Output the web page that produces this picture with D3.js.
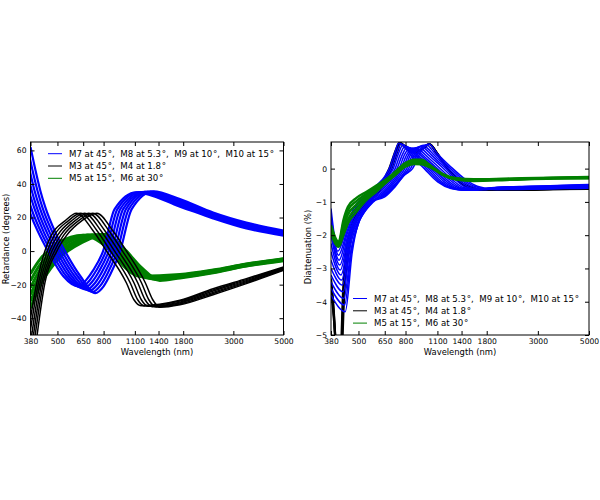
<!DOCTYPE html>
<html>
<head>
<meta charset="utf-8">
<script src="https://cdn.jsdelivr.net/npm/d3@7"></script>
<style>
  body { margin: 0; background: #fff; }
  text { font-family: "DejaVu Sans", sans-serif; }
  .legend text { white-space: pre; }
</style>
</head>
<body>
<div id="chart"></div>
<script>

// tick values and labels
var xTickValues = [380, 500, 650, 800, 1100, 1400, 1800, 3000, 5000];
var retYTicks = [-40, -20, 0, 20, 40, 60];
var diaYTicks = [-5, -4, -3, -2, -1, 0];
var legendLabels = ["M7 at 45\u200a°,  M8 at 5.3\u200a°,  M9 at 10\u200a°,  M10 at 15\u200a°",
                    "M3 at 45\u200a°,  M4 at 1.8\u200a°",
                    "M5 at 15\u200a°,  M6 at 30\u200a°"];
var legendColors = ["#0000ff", "#000000", "#008000"];

// retardance (degrees), [wavelength nm, value]
var retBlue = [
  [[319,62],[336,48],[353,36],[371,26],[412,11],[454,0],[531,-15],[618,-21],[672,-17],[719,-11.5],[796,0],[895,25],[1116,35],[1741,26.5],[2441,19.5],[3424,13.5],[5000,9.2]],
  [[329,62],[346,48],[363,36],[382,26],[424,11],[467,0],[547,-15],[636,-21.7],[692,-17.7],[740,-11.9],[819,0],[921,25],[1149,35.1],[1741,27.3],[2441,20.1],[3424,14.1],[5000,9.7]],
  [[338,62],[356,48],[374,36],[394,26],[436,11],[481,0],[563,-15],[654,-22.3],[712,-18.3],[762,-12.3],[843,0],[948,25],[1183,35.2],[1741,28],[2441,20.7],[3424,14.7],[5000,10.2]],
  [[348,62],[367,48],[385,36],[405,26],[449,11],[495,0],[579,-15],[674,-23],[733,-19],[785,-12.7],[868,0],[976,25],[1217,35.3],[1741,28.8],[2441,21.3],[3424,15.3],[5000,10.7]],
  [[358,62],[377,48],[396,36],[417,26],[462,11],[509,0],[596,-15],[693,-23.6],[755,-19.6],[808,-13.2],[893,0],[1005,25],[1253,35.4],[1741,29.5],[2441,21.8],[3424,15.8],[5000,11.2]],
  [[369,62],[388,48],[408,36],[429,26],[476,11],[524,0],[614,-15],[714,-24.3],[777,-20.3],[831,-13.6],[919,0],[1034,25],[1289,35.5],[1741,30.3],[2441,22.4],[3424,16.4],[5000,11.7]],
  [[380,62],[400,48],[420,36],[442,26],[490,11],[540,0],[632,-15],[735,-25],[800,-21],[856,-14],[947,0],[1065,25],[1328,35.6],[1741,31],[2441,23],[3424,17],[5000,12.2]]
];

var retBlack = [
  [[365,-55],[405,-19],[440,0],[470,9.5],[540,18],[607,22.5],[720,12],[825,0],[1010,-19],[1090,-29],[1170,-32.5],[1741,-29.3],[2441,-22.4],[3424,-16.4],[5000,-9.5]],
  [[372,-55],[412,-19],[451,0],[485,9.5],[558,18],[633,22.5],[750,12],[859,0],[1050,-19],[1132,-29],[1216,-32.7],[1741,-29.8],[2441,-23.1],[3424,-17],[5000,-9.9]],
  [[380,-55],[419,-19],[462,0],[501,9.5],[577,18],[659,22.5],[780,12],[895,0],[1091,-19],[1175,-29],[1264,-32.9],[1741,-30.4],[2441,-23.8],[3424,-17.6],[5000,-10.3]],
  [[387,-55],[426,-19],[473,0],[517,9.5],[597,18],[687,22.5],[812,12],[932,0],[1134,-19],[1221,-29],[1314,-33.1],[1741,-30.9],[2441,-24.6],[3424,-18.2],[5000,-10.7]],
  [[394,-55],[433,-19],[485,0],[533,9.5],[618,18],[716,22.5],[846,12],[970,0],[1178,-19],[1268,-29],[1366,-33.3],[1741,-31.5],[2441,-25.3],[3424,-18.8],[5000,-11.1]],
  [[402,-55],[440,-19],[497,0],[550,9.5],[640,18],[747,22.5],[880,12],[1010,0],[1225,-19],[1320,-29],[1420,-33.5],[1741,-32],[2441,-26],[3424,-19.4],[5000,-11.5]]
];

var retGreen = [
  [[380,-13.5],[421,-4.5],[455,0],[470,1.5],[505,5],[650,9.5],[780,5],[860,0],[1000,-10],[1150,-15],[1741,-14],[2441,-11.3],[3424,-7.7],[5000,-4.5]],
  [[380,-17.6],[421,-7.6],[447,-3.6],[473,0],[530,5],[681,9.6],[808,5],[888,0],[1034,-10],[1200,-15.5],[1741,-14.4],[2441,-11.6],[3424,-7.9],[5000,-4.7]],
  [[380,-21.7],[421,-10.7],[450,-5.5],[493,0],[555,5],[713,9.7],[837,5],[917,0],[1068,-10],[1251,-16],[1741,-14.8],[2441,-11.9],[3424,-8.2],[5000,-5]],
  [[380,-25.8],[421,-13.8],[460,-6.5],[513,0],[582,5],[747,9.8],[867,5],[947,0],[1104,-10],[1305,-16.5],[1741,-15.2],[2441,-12.3],[3424,-8.4],[5000,-5.2]],
  [[380,-29.9],[421,-16.9],[465,-8.5],[534,0],[610,5],[783,9.9],[898,5],[978,0],[1141,-10],[1361,-17],[1741,-15.6],[2441,-12.6],[3424,-8.7],[5000,-5.5]],
  [[380,-34],[421,-20],[466,-10.5],[515,-3.5],[555,0],[640,5],[820,10],[930,5],[1010,0],[1180,-10],[1420,-17.5],[1741,-16],[2441,-12.9],[3424,-8.9],[5000,-5.7]]
];

// diattenuation (%), right panel
var diaBlue = [
  [[380,-1.2],[405,-2.35],[440,-1.8],[480,-1.15],[540,-0.8],[600,-0.5],[655,-0.2],[680,0],[720,0.5],[748,0.77],[800,0.62],[845,0.4],[965,0],[1103,-0.4],[1260,-0.6],[1440,-0.65],[2000,-0.56],[2800,-0.53],[3900,-0.5],[5000,-0.48]],
  [[380,-1.4],[407,-2.48],[442,-1.85],[485,-1.18],[545,-0.82],[607,-0.52],[665,-0.21],[693,0],[732,0.48],[764,0.74],[815,0.61],[862,0.4],[987,0],[1126,-0.4],[1280,-0.6],[1460,-0.65],[2000,-0.565],[2800,-0.535],[3900,-0.51],[5000,-0.49]],
  [[380,-1.6],[410,-2.6],[445,-1.9],[490,-1.2],[550,-0.85],[615,-0.55],[675,-0.22],[707,0],[745,0.45],[780,0.72],[830,0.6],[880,0.4],[1010,0],[1150,-0.4],[1300,-0.6],[1480,-0.65],[2000,-0.57],[2800,-0.54],[3900,-0.52],[5000,-0.5]],
  [[380,-1.8],[412,-2.75],[447,-1.95],[495,-1.25],[555,-0.88],[622,-0.58],[688,-0.24],[721,0],[760,0.44],[797,0.68],[850,0.56],[900,0.38],[1032,0],[1175,-0.39],[1325,-0.6],[1505,-0.645],[2000,-0.575],[2800,-0.55],[3900,-0.53],[5000,-0.51]],
  [[380,-2.0],[415,-2.9],[450,-2.0],[500,-1.3],[560,-0.9],[630,-0.6],[700,-0.25],[735,0],[775,0.42],[815,0.65],[870,0.52],[920,0.36],[1055,0],[1200,-0.38],[1350,-0.6],[1530,-0.64],[2000,-0.58],[2800,-0.56],[3900,-0.54],[5000,-0.52]],
  [[380,-2.25],[417,-3.05],[452,-2.05],[505,-1.33],[565,-0.93],[635,-0.64],[712,-0.25],[750,0],[792,0.42],[837,0.63],[895,0.51],[945,0.36],[1077,0],[1225,-0.37],[1375,-0.59],[1565,-0.635],[2000,-0.59],[2800,-0.57],[3900,-0.545],[5000,-0.525]],
  [[380,-2.5],[420,-3.2],[455,-2.1],[510,-1.35],[570,-0.95],[640,-0.68],[725,-0.25],[764,0],[810,0.42],[860,0.62],[920,0.5],[970,0.35],[1100,0],[1250,-0.35],[1400,-0.58],[1600,-0.63],[2000,-0.6],[2800,-0.58],[3900,-0.55],[5000,-0.53]],
  [[380,-2.75],[423,-3.35],[457,-2.15],[515,-1.38],[575,-0.98],[642,-0.72],[737,-0.25],[779,0],[827,0.43],[882,0.63],[940,0.52],[990,0.37],[1125,0.02],[1275,-0.33],[1425,-0.57],[1625,-0.63],[2000,-0.605],[2800,-0.585],[3900,-0.56],[5000,-0.54]],
  [[380,-3.0],[426,-3.5],[460,-2.2],[520,-1.4],[580,-1.0],[645,-0.75],[750,-0.25],[794,0],[845,0.45],[905,0.64],[960,0.55],[1010,0.4],[1150,0.05],[1300,-0.3],[1450,-0.55],[1650,-0.63],[2000,-0.61],[2800,-0.59],[3900,-0.57],[5000,-0.55]],
  [[380,-3.2],[429,-3.7],[462,-2.3],[515,-1.45],[575,-1.0],[647,-0.78],[765,-0.24],[810,0],[862,0.46],[930,0.67],[980,0.58],[1032,0.42],[1175,0.06],[1335,-0.3],[1490,-0.54],[1700,-0.625],[2000,-0.615],[2800,-0.595],[3900,-0.575],[5000,-0.56]],
  [[380,-3.4],[432,-3.9],[465,-2.4],[510,-1.5],[570,-1.0],[648,-0.8],[780,-0.22],[825,0],[880,0.47],[955,0.7],[1000,0.6],[1055,0.43],[1200,0.07],[1370,-0.3],[1530,-0.52],[1750,-0.62],[2000,-0.62],[2800,-0.6],[3900,-0.58],[5000,-0.57]],
  [[380,-3.6],[435,-4.1],[467,-2.45],[505,-1.55],[565,-1.0],[649,-0.82],[785,-0.21],[841,0],[905,0.48],[982,0.72],[1078,0.44],[1230,0.06],[1405,-0.3],[1565,-0.51],[1775,-0.61],[2000,-0.625],[2800,-0.61],[3900,-0.59],[5000,-0.58]],
  [[380,-3.8],[438,-4.3],[470,-2.5],[500,-1.6],[560,-1.0],[650,-0.85],[720,-0.55],[790,-0.2],[858,0],[930,0.5],[1010,0.74],[1100,0.45],[1260,0.05],[1440,-0.3],[1600,-0.5],[1800,-0.6],[2000,-0.63],[2800,-0.62],[3900,-0.6],[5000,-0.59]]
];

var diaBlack = [
  [[380,-3.3],[390,-4.2],[398,-5.2],[410,-6],[420,-5.4],[428,-3.8],[445,-2.4],[480,-1.5],[540,-1.0],[610,-0.6],[680,0],[730,0.6],[752,0.78],[800,0.63],[860,0.5],[950,0.6],[1010,0.74],[1100,0.45],[1250,-0.1],[1450,-0.5],[1700,-0.63],[2500,-0.63],[3500,-0.61],[5000,-0.6]],
  [[380,-3.45],[391,-4.4],[399,-5.35],[412,-6.1],[422,-5.45],[430,-3.9],[447,-2.5],[482,-1.55],[542,-1.02],[615,-0.62],[685,-0.02],[735,0.58],[757,0.77],[805,0.62],[865,0.5],[955,0.61],[1012,0.74],[1105,0.42],[1255,-0.11],[1455,-0.51],[1710,-0.635],[2500,-0.635],[3500,-0.615],[5000,-0.605]],
  [[380,-3.6],[392,-4.6],[400,-5.5],[414,-6.2],[424,-5.5],[432,-4],[450,-2.6],[485,-1.6],[545,-1.05],[620,-0.65],[690,-0.05],[740,0.55],[762,0.76],[810,0.6],[870,0.5],[960,0.62],[1015,0.74],[1110,0.4],[1260,-0.12],[1460,-0.52],[1720,-0.64],[2500,-0.64],[3500,-0.62],[5000,-0.61]]
];

var diaGreen = [
  [[380,-1.7],[410,-2.2],[430,-1.55],[450,-1.15],[490,-0.88],[540,-0.7],[600,-0.5],[660,-0.32],[720,-0.1],[795,0.16],[870,0.27],[940,0.27],[1010,0.13],[1060,0.02],[1160,-0.16],[1330,-0.29],[1580,-0.32],[2200,-0.3],[3500,-0.27],[5000,-0.25]],
  [[380,-1.75],[410,-2.25],[430,-1.65],[450,-1.25],[490,-0.98],[540,-0.76],[600,-0.55],[660,-0.34],[720,-0.12],[795,0.13],[870,0.24],[940,0.24],[1010,0.11],[1060,0.01],[1160,-0.17],[1330,-0.3],[1580,-0.33],[2200,-0.31],[3500,-0.28],[5000,-0.26]],
  [[380,-1.8],[410,-2.28],[430,-1.75],[450,-1.38],[490,-1.08],[540,-0.82],[600,-0.6],[660,-0.37],[720,-0.15],[795,0.1],[870,0.21],[940,0.2],[1010,0.09],[1060,0],[1160,-0.18],[1330,-0.31],[1580,-0.34],[2200,-0.32],[3500,-0.28],[5000,-0.27]],
  [[380,-1.88],[410,-2.32],[430,-1.88],[450,-1.52],[490,-1.2],[540,-0.88],[600,-0.64],[660,-0.4],[720,-0.17],[795,0.08],[870,0.17],[940,0.16],[1010,0.07],[1060,-0.01],[1160,-0.18],[1330,-0.32],[1580,-0.35],[2200,-0.33],[3500,-0.29],[5000,-0.28]],
  [[380,-1.95],[410,-2.35],[430,-2.0],[450,-1.65],[490,-1.3],[540,-0.95],[600,-0.68],[660,-0.42],[720,-0.2],[795,0.05],[870,0.14],[940,0.13],[1010,0.05],[1060,-0.02],[1160,-0.19],[1330,-0.33],[1580,-0.37],[2200,-0.34],[3500,-0.3],[5000,-0.29]]
];

var svg = d3.select("#chart")
  .append("svg")
    .attr("width", 600)
    .attr("height", 500);

svg.append("rect").attr("width", 600).attr("height", 500).attr("fill", "#fff");

function drawPanel(p) {
  var g = svg.append("g")
    .attr("transform", "translate(" + p.left + "," + p.top + ")");

  var x = d3.scaleLog().domain([380, 5000]).range([0, p.width]);
  var y = d3.scaleLinear().domain(p.yDomain).range([p.height, 0]);

  g.append("clipPath").attr("id", p.id + "-clip")
    .append("rect").attr("width", p.width).attr("height", p.height);

  var line = d3.line()
    .x(function(d) { return x(d[0]); })
    .y(function(d) { return y(d[1]); })
    .curve(d3.curveMonotoneX);

  var plot = g.append("g").attr("clip-path", "url(#" + p.id + "-clip)");
  p.series.forEach(function(s) {
    plot.append("g").selectAll("path")
      .data(s.lines)
      .enter().append("path")
        .attr("d", line)
        .attr("fill", "none")
        .attr("stroke", s.color)
        .attr("stroke-width", s.width)
        .attr("stroke-linejoin", "round");
  });

  // ticks point inward on all four sides
  var axes = [
    g.append("g").attr("transform", "translate(0," + p.height + ")")
      .call(d3.axisBottom(x).tickValues(xTickValues).tickFormat(d3.format("d"))
        .tickSize(-4).tickSizeOuter(0).tickPadding(4)),
    g.append("g")
      .call(d3.axisTop(x).tickValues(xTickValues).tickFormat("").tickSize(-4).tickSizeOuter(0)),
    g.append("g")
      .call(d3.axisLeft(y).tickValues(p.yTicks).tickFormat(d3.format("d"))
        .tickSize(-4).tickSizeOuter(0).tickPadding(4)),
    g.append("g").attr("transform", "translate(" + p.width + ",0)")
      .call(d3.axisRight(y).tickValues(p.yTicks).tickFormat("").tickSize(-4).tickSizeOuter(0))
  ];
  axes.forEach(function(a) {
    a.select(".domain").remove();
    a.attr("font-family", null).attr("font-size", null);
    a.selectAll("text").attr("font-size", "7.6px").attr("fill", "#000");
    a.selectAll("line").attr("stroke", "#000");
  });

  g.append("rect")
    .attr("width", p.width).attr("height", p.height)
    .attr("fill", "none").attr("stroke", "#000").attr("stroke-width", 1);

  g.append("text")
    .attr("x", p.width / 2).attr("y", 213)
    .attr("text-anchor", "middle").attr("font-size", "8.4px")
    .text("Wavelength (nm)");

  g.append("text")
    .attr("transform", "translate(" + p.yLabelX + "," + p.yLabelY + ") rotate(-90)")
    .attr("text-anchor", "middle").attr("font-size", "8.4px")
    .text(p.yLabel);

  // legend, no frame
  var leg = g.append("g").attr("class", "legend");
  legendLabels.forEach(function(label, i) {
    var ly = p.legendY + i * 12.3;
    leg.append("line")
      .attr("x1", p.legendX).attr("x2", p.legendX + 14)
      .attr("y1", ly).attr("y2", ly)
      .attr("stroke", legendColors[i]).attr("stroke-width", 1);
    leg.append("text")
      .attr("x", p.legendX + 21).attr("y", ly).attr("dy", "0.35em")
      .attr("font-size", "8.6px")
      .text(label);
  });
}

drawPanel({
  id: "ret", left: 30.5, top: 142, width: 253, height: 193,
  yDomain: [-50, 65], yTicks: retYTicks,
  yLabel: "Retardance (degrees)", yLabelX: -21.5, yLabelY: 97,
  legendX: 17.5, legendY: 11.7,
  series: [
    {lines: retGreen, color: "#008000", width: 3},
    {lines: retBlue, color: "#0000ff", width: 2.2},
    {lines: retBlack, color: "#000000", width: 1.5}
  ]
});

drawPanel({
  id: "dia", left: 331, top: 142, width: 258, height: 193,
  yDomain: [-5, 0.8], yTicks: diaYTicks,
  yLabel: "Diattenuation (%)", yLabelX: -20, yLabelY: 105,
  legendX: 22, legendY: 156.5,
  series: [
    {lines: diaBlack, color: "#000000", width: 2.2},
    {lines: diaBlue, color: "#0000ff", width: 1.5},
    {lines: diaGreen, color: "#008000", width: 2.4}
  ]
});

</script>
</body>
</html>
